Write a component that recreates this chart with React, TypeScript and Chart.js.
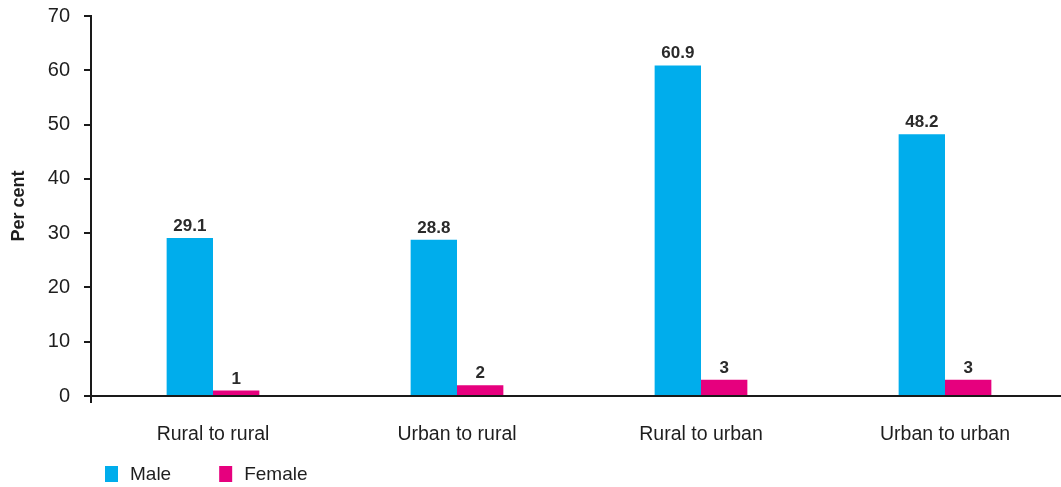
import React, { useEffect, useRef } from 'react';
import { Chart, registerables } from 'chart.js';

Chart.register(...registerables);

const categories = ['Rural to rural', 'Urban to rural', 'Rural to urban', 'Urban to urban'];
const maleValues = [29.1, 28.8, 60.9, 48.2];
const femaleValues = [1, 2, 3, 3];
const seriesNames = ['Male', 'Female'];
const yTickValues = [0, 10, 20, 30, 40, 50, 60, 70];
const yAxisTitle = 'Per cent';

const FONT = '"Liberation Sans", Arial, Helvetica, sans-serif';
const MALE_COLOR = '#00adec';
const FEMALE_COLOR = '#e6007e';
const AXIS_COLOR = '#1a1a1a';
const TEXT_COLOR = '#1e1e1e';

const valueLabelPlugin = {
  id: 'valueLabels',
  afterDatasetsDraw(chart: any) {
    const ctx = chart.ctx;
    ctx.save();
    ctx.font = `bold 17px ${FONT}`;
    ctx.fillStyle = '#2a2a2a';
    ctx.textAlign = 'center';
    ctx.textBaseline = 'alphabetic';
    chart.data.datasets.forEach((ds: any, di: number) => {
      const meta = chart.getDatasetMeta(di);
      meta.data.forEach((el: any, i: number) => {
        ctx.fillText(String(ds.data[i]), el.x, el.y - 7);
      });
    });
    ctx.restore();
  },
};

const bottomLegendPlugin = {
  id: 'bottomLegend',
  afterDraw(chart: any) {
    const ctx = chart.ctx;
    ctx.save();
    ctx.font = `19px ${FONT}`;
    ctx.textBaseline = 'middle';
    ctx.textAlign = 'left';
    let x = 105;
    const cy = 474;
    chart.data.datasets.forEach((ds: any) => {
      ctx.fillStyle = ds.backgroundColor;
      ctx.fillRect(x, cy - 8, 13, 16);
      ctx.fillStyle = TEXT_COLOR;
      const tx = x + 25;
      ctx.fillText(ds.label, tx, cy + 1);
      x = tx + ctx.measureText(ds.label).width + 48;
    });
    ctx.restore();
  },
};

export default function App() {
  const canvasRef = useRef<HTMLCanvasElement | null>(null);

  useEffect(() => {
    if (!canvasRef.current) return;
    const chart = new Chart(canvasRef.current, {
      type: 'bar',
      data: {
        labels: categories,
        datasets: [
          {
            label: seriesNames[0],
            data: maleValues,
            backgroundColor: MALE_COLOR,
            categoryPercentage: 0.38,
            barPercentage: 1.0,
          },
          {
            label: seriesNames[1],
            data: femaleValues,
            backgroundColor: FEMALE_COLOR,
            categoryPercentage: 0.38,
            barPercentage: 1.0,
          },
        ],
      },
      options: {
        animation: false,
        responsive: true,
        maintainAspectRatio: false,
        layout: { padding: { top: 16, right: 3, bottom: 35, left: 0 } },
        plugins: {
          legend: { display: false },
          tooltip: { enabled: false },
        },
        scales: {
          x: {
            offset: true,
            grid: {
              offset: true,
              drawOnChartArea: false,
              drawTicks: true,
              tickLength: 7,
              lineWidth: 2,
              color: (c: any) => (c.index === 0 ? AXIS_COLOR : 'rgba(0,0,0,0)'),
            },
            border: { display: true, color: AXIS_COLOR, width: 2 },
            ticks: {
              color: TEXT_COLOR,
              font: { family: FONT, size: 19.5 },
              padding: 20,
              maxRotation: 0,
            },
            afterFit(scale: any) {
              scale.height = 56;
              scale.paddingLeft = 0;
              scale.paddingRight = 0;
            },
          },
          y: {
            min: 0,
            max: 70,
            grid: {
              drawOnChartArea: false,
              drawTicks: true,
              tickLength: 7,
              lineWidth: 2,
              color: AXIS_COLOR,
            },
            border: { display: true, color: AXIS_COLOR, width: 2 },
            ticks: {
              color: TEXT_COLOR,
              font: { family: FONT, size: 20 },
              padding: 14,
            },
            afterBuildTicks(scale: any) {
              scale.ticks = yTickValues.map((v) => ({ value: v }));
            },
            title: {
              display: true,
              text: yAxisTitle,
              color: TEXT_COLOR,
              font: { family: FONT, size: 18, weight: 'bold' },
              padding: { top: 8, bottom: 0 },
            },
            afterFit(scale: any) {
              scale.width = 91;
              scale.paddingTop = 0;
              scale.paddingBottom = 0;
            },
          },
        },
      },
      plugins: [valueLabelPlugin, bottomLegendPlugin],
    } as any);
    return () => chart.destroy();
  }, []);

  return (
    <div style={{ position: 'fixed', left: 0, top: 0, width: 1061, height: 487, overflow: 'hidden', background: '#fff' }}>
      <div style={{ position: 'relative', width: 1070, height: 487 }}>
        <canvas ref={canvasRef} />
      </div>
    </div>
  );
}
